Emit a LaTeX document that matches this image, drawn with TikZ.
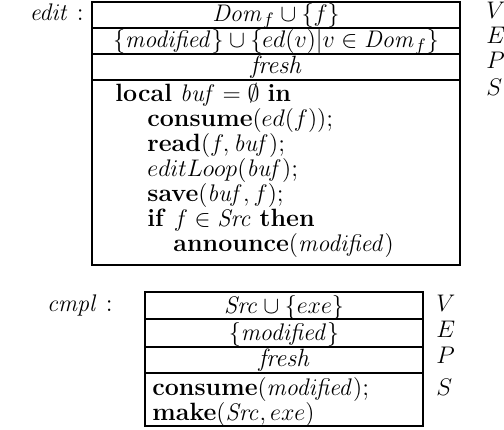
\documentclass[tikz,border=0pt]{standalone}
\begin{document}
\begin{tikzpicture}[x=0.5pt,y=-0.5pt,
  font=\fontsize{12.5}{15}\selectfont,
  rowbox/.style={draw, line width=0.9pt},
  txt/.style={inner sep=0pt, anchor=base},
  ltxt/.style={inner sep=0pt, anchor=base west},
  rtxt/.style={inner sep=0pt, anchor=base east}]
\useasboundingbox (0,0) rectangle (504,429);
% ---- edit ----
\node[rtxt] (editlbl) at (84,20) {$\mathit{edit}$ :};
\draw[rowbox] (92,2) rectangle (460,28);
\draw[rowbox] (92,28) rectangle (460,54);
\draw[rowbox] (92,54) rectangle (460,80);
\draw[rowbox] (92,80) rectangle (460,265);
\node[txt] (eV) at (276,21) {$\mathit{Dom}_f\cup\{f\}$};
\node[txt] (eE) at (276,47) {$\{\mathit{modified}\}\cup\{ed(v)|v\in \mathit{Dom}_f\}$};
\node[txt] (eP) at (276,73) {\textit{fresh}};
\node[ltxt] (e1) at (115,101) {\textbf{local} $\mathit{buf}=\emptyset$ \textbf{in}};
\node[ltxt] (e2) at (147,126) {\textbf{consume}$(ed(f))$;};
\node[ltxt] (e3) at (147,151) {\textbf{read}$(f,\mathit{buf})$;};
\node[ltxt] (e4) at (147,176) {$editLoop(\mathit{buf})$;};
\node[ltxt] (e5) at (147,201) {\textbf{save}$(\mathit{buf},f)$;};
\node[ltxt] (e6) at (147,226) {\textbf{if} $f\in\mathit{Src}$ \textbf{then}};
\node[ltxt] (e7) at (173,251) {\textbf{announce}$(\mathit{modified})$};
\node[ltxt] (eVl) at (486,18) {$V$};
\node[ltxt] (eEl) at (486,43) {$E$};
\node[ltxt] (ePl) at (486,68) {$P$};
\node[ltxt] (eSl) at (486,95) {$S$};
% ---- cmpl ----
\node[rtxt] (cmpllbl) at (113,311) {$\mathit{cmpl}$ :};
\draw[rowbox] (145,292) rectangle (423,319);
\draw[rowbox] (145,319) rectangle (423,347);
\draw[rowbox] (145,347) rectangle (423,373);
\draw[rowbox] (145,373) rectangle (423,426);
\node[txt] (cV) at (284,313) {$\mathit{Src}\cup\{exe\}$};
\node[txt] (cE) at (284,340) {$\{\mathit{modified}\}$};
\node[txt] (cP) at (284,366) {\textit{fresh}};
\node[ltxt] (c1) at (152,395) {\textbf{consume}$(\mathit{modified})$;};
\node[ltxt] (c2) at (152,420) {\textbf{make}$(\mathit{Src},exe)$};
\node[ltxt] (cVl) at (436,311) {$V$};
\node[ltxt] (cEl) at (436,337) {$E$};
\node[ltxt] (cPl) at (436,363) {$P$};
\node[ltxt] (cSl) at (436,395) {$S$};
\end{tikzpicture}
\end{document}
